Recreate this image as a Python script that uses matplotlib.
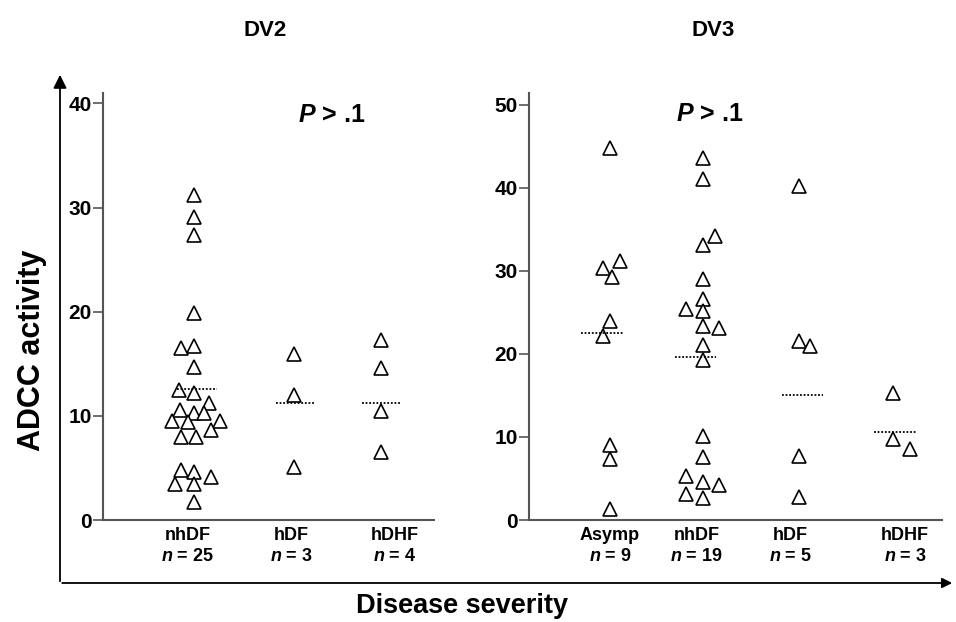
import matplotlib
matplotlib.use("Agg")
import matplotlib.pyplot as plt
from matplotlib.patches import FancyArrowPatch

plt.rcParams['font.family'] = ['Liberation Sans', 'DejaVu Sans']
plt.rcParams['font.weight'] = 'bold'
plt.rcParams['mathtext.fontset'] = 'custom'
plt.rcParams['mathtext.it'] = 'Liberation Sans:italic:bold'
plt.rcParams['mathtext.rm'] = 'Liberation Sans:bold'
plt.rcParams['mathtext.bf'] = 'Liberation Sans:bold'

# ---- datos DV2 ----
dv2_groups = ['nhDF', 'hDF', 'hDHF']
dv2_nhdf = [31.2, 29.1, 27.4, 19.9, 16.7, 16.5, 14.7, 12.5, 12.2, 11.25, 10.6, 10.3, 10.3,
            9.5, 9.4, 9.5, 8.6, 8.0, 8.0, 4.8, 4.6, 4.1, 3.45, 3.45, 1.7]
dv2_nhdf_dx = [0, 0, 0, 0, 0, -0.13, 0, -0.15, 0, 0.14, -0.14, 0, 0.10,
               -0.21, -0.06, 0.25, 0.16, -0.13, 0.02, -0.13, 0, 0.16, -0.18, 0, 0]
dv2_hdf = [15.9, 12.0, 5.05]
dv2_hdf_dx = [0, 0, 0]
dv2_hdhf = [17.3, 14.55, 10.5, 6.55]
dv2_hdhf_dx = [0, 0, 0, 0]
dv2_means = [12.6, 11.25, 11.25]
dv2_yticks = [0, 10, 20, 30, 40]

# ---- datos DV3 ----
dv3_groups = ['Asymp', 'nhDF', 'hDF', 'hDHF']
dv3_asymp = [44.8, 31.2, 30.3, 29.3, 24.0, 22.1, 9.0, 7.35, 1.3]
dv3_asymp_dx = [0, 0.11, -0.07, 0.02, 0, -0.07, 0, 0, 0]
dv3_nhdf = [43.6, 41.1, 34.2, 33.1, 29.0, 26.6, 25.4, 25.2, 23.3, 23.1, 21.1, 19.3,
            10.1, 7.6, 5.3, 4.6, 4.2, 3.1, 2.7]
dv3_nhdf_dx = [0, 0, 0.12, 0, 0, 0, -0.18, 0, 0, 0.17, 0, 0, 0, 0, -0.18, 0, 0.17, -0.18, 0]
dv3_hdf = [40.2, 21.6, 21.0, 7.7, 2.8]
dv3_hdf_dx = [0, 0, 0.12, 0, 0]
dv3_hdhf = [15.3, 9.8, 8.6]
dv3_hdhf_dx = [0, 0, 0.18]
dv3_means = [22.5, 19.6, 15.1, 10.6]
dv3_yticks = [0, 10, 20, 30, 40, 50]

fig = plt.figure(figsize=(9.56, 6.22), dpi=100)


def panel(rect, xlim, ylim, centers, label_x, groups, series, shifts, means, mean_shift,
          half_w, yticks, ptext_xy):
    ax = fig.add_axes(rect)
    for c, vals, dx in zip(centers, series, shifts):
        xs = [c + d for d in dx]
        ax.plot(xs, vals, linestyle='none', marker='^', markersize=9.5,
                markerfacecolor='white', markeredgecolor='black', markeredgewidth=1.2)
    for c, m, s in zip(centers, means, mean_shift):
        ax.plot([c + s - half_w, c + s + half_w], [m, m], color='black',
                linestyle=(0, (1, 1)), linewidth=1.3)
    ax.set_xlim(*xlim)
    ax.set_ylim(*ylim)
    ax.set_yticks(yticks)
    ax.set_yticklabels([str(t) for t in yticks], fontsize=15, fontweight='bold')
    labels = [g + '\n' + r'$n$' + ' = ' + str(len(v)) for g, v in zip(groups, series)]
    ax.set_xticks(label_x)
    ax.set_xticklabels(labels, fontsize=13, fontweight='bold', linespacing=1.35)
    ax.tick_params(axis='x', length=0, pad=5)
    ax.tick_params(axis='y', length=7, width=1.2, pad=1, color='#555555')
    for side in ['top', 'right']:
        ax.spines[side].set_visible(False)
    for side in ['left', 'bottom']:
        ax.spines[side].set_color('#555555')
        ax.spines[side].set_linewidth(1.5)
    ax.text(ptext_xy[0], ptext_xy[1], r'$P$ > .1', fontsize=18, fontweight='bold',
            ha='center', va='center')
    return ax


panel([103 / 956, 102 / 622, 331 / 956, 427 / 622], (0.18, 3.38), (0, 41),
      [1.06, 2.03, 2.87], [1, 2, 3], dv2_groups,
      [dv2_nhdf, dv2_hdf, dv2_hdhf], [dv2_nhdf_dx, dv2_hdf_dx, dv2_hdhf_dx],
      dv2_means, [0.03, 0.01, 0], 0.19, dv2_yticks, (2.39, 38.9))

panel([529 / 956, 102 / 622, 413 / 956, 427 / 622], (0.14, 4.52), (0, 51.4),
      [1, 1.99, 3.0, 4.0], [1.0, 1.92, 2.91, 4.13], dv3_groups,
      [dv3_asymp, dv3_nhdf, dv3_hdf, dv3_hdhf],
      [dv3_asymp_dx, dv3_nhdf_dx, dv3_hdf_dx, dv3_hdhf_dx],
      dv3_means, [-0.085, -0.085, 0.04, 0.02], 0.22, dv3_yticks, (2.06, 48.9))

# ejes exteriores con flechas
def px(x, y):
    return (x / 956, 1 - y / 622)

fig.add_artist(FancyArrowPatch(px(60, 584), px(60, 72), transform=fig.transFigure,
                               arrowstyle='-|>,head_length=0.4,head_width=0.2',
                               mutation_scale=20, color='black', linewidth=1.3))
fig.add_artist(FancyArrowPatch(px(59.4, 583), px(955, 583), transform=fig.transFigure,
                               arrowstyle='-|>,head_length=0.3,head_width=0.15',
                               mutation_scale=20, color='black', linewidth=1.3))

fig.text(265 / 956, 1 - 31 / 622, 'DV2', fontsize=16, fontweight='bold', ha='center', va='center')
fig.text(713 / 956, 1 - 31 / 622, 'DV3', fontsize=16, fontweight='bold', ha='center', va='center')
fig.text(32 / 956, 1 - 350 / 622, 'ADCC activity', fontsize=22, fontweight='bold',
         rotation=90, ha='center', va='center')
fig.text(462 / 956, 1 - 606 / 622, 'Disease severity', fontsize=19.5, fontweight='bold',
         ha='center', va='center')

fig.savefig('out.png', dpi=100)
